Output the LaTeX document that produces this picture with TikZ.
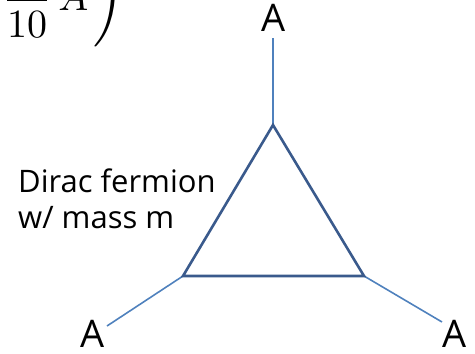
\documentclass[tikz,border=0pt]{standalone}
\usepackage{fontspec}
\setmainfont{Open Sans}
\usepackage{amsmath}
\definecolor{tri}{HTML}{3A5A8C}
\definecolor{leg}{HTML}{4F81BD}
\begin{document}
\begin{tikzpicture}[x=1pt,y=-1pt,
  trisd/.style={draw=tri,line width=2.6pt,line join=miter},
  legline/.style={draw=leg,line width=1.6pt},
  lab/.style={inner sep=0pt,font=\fontsize{38}{40}\selectfont},
  txt/.style={inner sep=0pt,anchor=west,font=\fontsize{31}{34}\selectfont}]
\useasboundingbox (0,0) rectangle (475,354);
\begin{scope}
\clip (0,0) rectangle (140,60);
\node[inner sep=0pt,anchor=base west] (frag) at (2,10) {\scalebox{4}{$\dfrac{1}{10}\mkern3mu A$}};
\node[inner sep=0pt,anchor=south east] (paren) at (125,47) {\scalebox{4}{$\Bigg)$}};
\end{scope}
\coordinate (t) at (273,125);
\coordinate (l) at (183,276);
\coordinate (r) at (364,276);
\coordinate (te) at (273,38);
\coordinate (le) at (107,326);
\coordinate (re) at (442,322);
\draw[legline] (t) -- (te);
\draw[legline] (l) -- (le);
\draw[legline] (r) -- (re);
\draw[trisd] (t) -- (l) -- (r) -- cycle;
\node[lab] (at) at (274,18) {A};
\node[lab] (al) at (93,334) {A};
\node[lab] (ar) at (455,334) {A};
\node[txt] (d1) at (18,181) {Dirac fermion};
\node[txt] (d2) at (18,218) {w/ mass m};
\end{tikzpicture}
\end{document}
